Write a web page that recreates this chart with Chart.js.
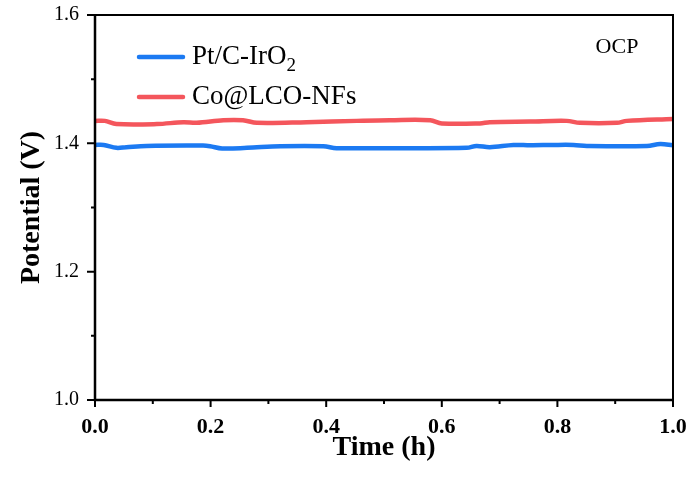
<!DOCTYPE html>
<html>
<head>
<meta charset="utf-8">
<script src="https://cdn.jsdelivr.net/npm/chart.js@4.4.1/dist/chart.umd.min.js"></script>
<style>
  html, body { margin: 0; padding: 0; background: #fff; }
  #wrap { width: 692px; height: 479px; }
</style>
</head>
<body>
<div id="wrap"><canvas id="ocp"></canvas></div>
<script>
// series names, drawn in the legend (trailing digits become subscripts)
const seriesNames = ["Pt/C-IrO2", "Co@LCO-NFs"];
const seriesColors = ["rgb(28, 122, 242)", "rgb(244, 86, 92)"];

// Pt/C-IrO2 open-circuit potential over time
const ptTime = [0, 0.015, 0.037, 0.054, 0.089, 0.187, 0.199, 0.22, 0.263, 0.321, 0.395, 0.418, 0.51,
  0.643, 0.66, 0.683, 0.724, 0.753, 0.793, 0.828, 0.851, 0.955, 0.978, 1.0];
const ptPotential = [1.3975, 1.3975, 1.393, 1.394, 1.396, 1.3965, 1.3955, 1.392, 1.393, 1.3955, 1.3955, 1.3925, 1.3925,
  1.393, 1.396, 1.394, 1.3975, 1.397, 1.3975, 1.3975, 1.396, 1.396, 1.399, 1.397];

// Co@LCO-NFs open-circuit potential over time
const coTime = [0, 0.017, 0.037, 0.107, 0.153, 0.176, 0.222, 0.256, 0.28, 0.366, 0.453, 0.51,
  0.58, 0.60, 0.666, 0.683, 0.753, 0.816, 0.839, 0.903, 0.92, 1.0];
const coPotential = [1.435, 1.435, 1.430, 1.430, 1.433, 1.432, 1.436, 1.436, 1.432, 1.433, 1.435, 1.436,
  1.436, 1.431, 1.431, 1.433, 1.434, 1.435, 1.432, 1.432, 1.435, 1.438];

// axis ticks
const xMajor = [0, 0.2, 0.4, 0.6, 0.8, 1.0];
const xMinor = [0.1, 0.3, 0.5, 0.7, 0.9];
const yMajor = [1.0, 1.2, 1.4, 1.6];
const yMinor = [1.1, 1.3, 1.5];

const annotation = "OCP";
const serif = "'Liberation Serif', 'Times New Roman', serif";

const toPoints = (xs, ys) => xs.map((x, i) => ({ x: x, y: ys[i] }));

// fixed axis sizes, no extra room for overhanging tick labels
const fixSize = (w, h) => (s) => {
  if (w) s.width = w;
  if (h) s.height = h;
  s.paddingLeft = s.paddingRight = s.paddingTop = s.paddingBottom = 0;
};

// frame, tick marks, legend and the OCP note
const decorations = {
  id: "decorations",
  afterDraw(chart) {
    const { ctx, chartArea: a, scales } = chart;
    const xs = scales.x, ys = scales.y;
    ctx.save();
    ctx.strokeStyle = "#000";
    ctx.lineCap = "butt";

    // top and right border
    ctx.lineWidth = 2;
    ctx.beginPath();
    ctx.moveTo(a.left, a.top);
    ctx.lineTo(a.right, a.top);
    ctx.lineTo(a.right, a.bottom);
    ctx.stroke();

    // main axes
    ctx.lineWidth = 2.5;
    ctx.beginPath();
    ctx.moveTo(a.left, a.top - 1);
    ctx.lineTo(a.left, a.bottom);
    ctx.lineTo(a.right + 1, a.bottom);
    ctx.stroke();

    // outward ticks
    ctx.lineWidth = 2;
    ctx.beginPath();
    xMajor.forEach(v => { const p = xs.getPixelForValue(v); ctx.moveTo(p, a.bottom); ctx.lineTo(p, a.bottom + 7); });
    xMinor.forEach(v => { const p = xs.getPixelForValue(v); ctx.moveTo(p, a.bottom); ctx.lineTo(p, a.bottom + 4); });
    yMajor.forEach(v => { const p = ys.getPixelForValue(v); ctx.moveTo(a.left, p); ctx.lineTo(a.left - 8, p); });
    yMinor.forEach(v => { const p = ys.getPixelForValue(v); ctx.moveTo(a.left, p); ctx.lineTo(a.left - 4, p); });
    ctx.stroke();

    // legend
    chart.data.datasets.forEach((ds, i) => {
      const y = a.top + 42 + i * 40;
      ctx.strokeStyle = ds.borderColor;
      ctx.lineWidth = 4.5;
      ctx.lineCap = "round";
      ctx.beginPath();
      ctx.moveTo(a.left + 44, y);
      ctx.lineTo(a.left + 88, y);
      ctx.stroke();

      ctx.fillStyle = "#000";
      ctx.textAlign = "left";
      ctx.textBaseline = "middle";
      const m = ds.label.match(/^(.*?)(\d+)$/);
      const main = m ? m[1] : ds.label;
      ctx.font = "27px " + serif;
      ctx.fillText(main, a.left + 97, y);
      if (m) {
        const w = ctx.measureText(main).width;
        ctx.font = "19px " + serif;
        ctx.fillText(m[2], a.left + 97 + w, y + 9);
      }
    });

    // label in the upper right corner
    ctx.fillStyle = "#000";
    ctx.font = "22px " + serif;
    ctx.textAlign = "center";
    ctx.textBaseline = "middle";
    ctx.fillText(annotation, a.right - 56, a.top + 32);
    ctx.restore();
  }
};

new Chart(document.getElementById("ocp"), {
  type: "line",
  data: {
    datasets: [
      {
        label: seriesNames[0],
        data: toPoints(ptTime, ptPotential),
        borderColor: seriesColors[0],
        borderWidth: 4.5,
        pointRadius: 0,
        tension: 0.35,
      },
      {
        label: seriesNames[1],
        data: toPoints(coTime, coPotential),
        borderColor: seriesColors[1],
        borderWidth: 4.5,
        pointRadius: 0,
        tension: 0.35,
      },
    ],
  },
  options: {
    responsive: true,
    maintainAspectRatio: false,
    animation: false,
    layout: { padding: { top: 15, right: 19, left: 0, bottom: 0 } },
    plugins: {
      legend: { display: false },
      tooltip: { enabled: false },
    },
    scales: {
      x: {
        type: "linear",
        min: 0,
        max: 1,
        afterFit: fixSize(0, 79),
        afterBuildTicks: (s) => { s.ticks = xMajor.map(v => ({ value: v })); },
        grid: { display: false, drawTicks: false },
        border: { display: false },
        ticks: {
          color: "#000",
          padding: 14,
          maxRotation: 0,
          font: { family: serif, size: 22, weight: "bold" },
          callback: (v) => Number(v).toFixed(1),
        },
        title: {
          display: true,
          text: "Time (h)",
          color: "#000",
          padding: { top: 0, bottom: 14 },
          font: { family: serif, size: 28, weight: "bold" },
        },
      },
      y: {
        min: 1.0,
        max: 1.6,
        afterFit: fixSize(95, 0),
        afterBuildTicks: (s) => { s.ticks = yMajor.map(v => ({ value: v })); },
        grid: { display: false, drawTicks: false },
        border: { display: false },
        ticks: {
          color: "#000",
          padding: 16,
          font: { family: serif, size: 20 },
          callback: (v) => Number(v).toFixed(1),
        },
        title: {
          display: true,
          text: "Potential (V)",
          color: "#000",
          padding: { top: 15, bottom: 0 },
          font: { family: serif, size: 28, weight: "bold" },
        },
      },
    },
  },
  plugins: [decorations],
});
</script>
</body>
</html>
